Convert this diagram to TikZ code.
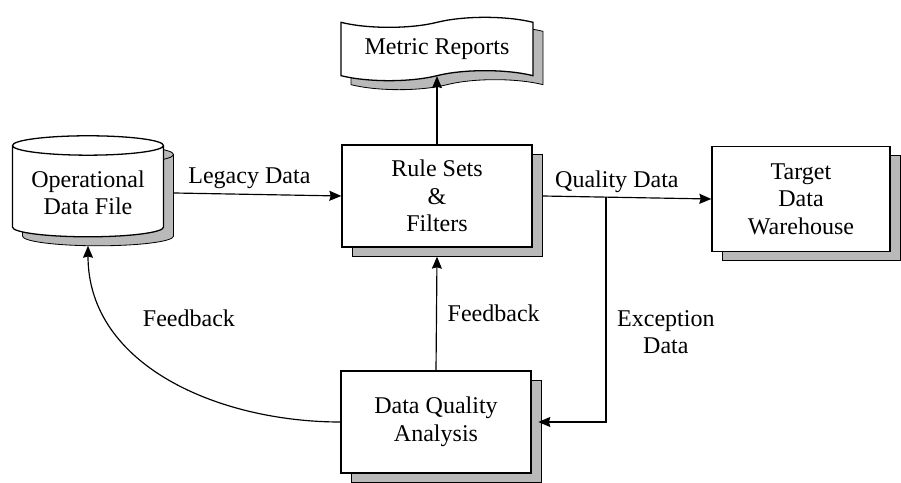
\documentclass[tikz,border=0pt]{standalone}
\usepackage{fontspec}
\setmainfont{Liberation Serif}
\usetikzlibrary{shapes.geometric,shapes.symbols,shadows,arrows.meta,positioning}
\begin{document}
\begin{tikzpicture}[x=0.03cm, y=-0.03cm, font=\fontsize{20.5}{23.5}\selectfont]
        % Define styles
        \tikzstyle{shadowed} = [copy shadow={shadow xshift=0.3cm, shadow yshift=-0.27cm, fill=gray!55, draw=black, line width=0.7pt}]
        \tikzstyle{process} = [rectangle, minimum width=5.7cm, minimum height=3.06cm, align=center, draw=black, fill=white, line width=1.1pt, shadowed]
        \tikzstyle{storage} = [cylinder, shape border rotate=90, aspect=0.16, minimum width=4.53cm, minimum height=3.03cm, align=center, draw=black, fill=white, line width=1.1pt, shadowed]
        \tikzstyle{report} = [tape, tape bend height=0.3cm, minimum width=5.76cm, minimum height=1.9cm, align=center, draw=black, fill=white, line width=1.1pt, shadowed]
        \tikzstyle{arrow} = [line width=1pt,->,>={Stealth[length=3.6mm,width=3mm,inset=0.4mm]}]

        \useasboundingbox (0,0) rectangle (901,483);

        % Nodes
        \node (ops) [storage] at (88,193) {Operational\\Data File};
        \node (rule) [process] at (437,196) {Rule Sets\\\&\\Filters};
        \node (metric) [report] at (437,49) {Metric Reports};
        \node (target) [process, minimum width=5.34cm, minimum height=3.15cm] at (801,199) {Target\\Data\\Warehouse};
        \node (dqa) [process] at (436,422) {Data Quality\\Analysis};
        \coordinate (split) at (606,197);

        % Arrows
        \draw [arrow] ([xshift=0.3cm]ops.east) -- node[above, pos=0.45, yshift=1pt] {Legacy Data} (rule.west);
        \draw [arrow] (rule.north) -- (metric.south);
        \draw [arrow] ([xshift=0.3cm]rule.east) -- node[above, pos=0.44] {Quality Data} (target.west);
        \draw [arrow] (split) |- node[right=0.2cm, pos=0.3, align=center] {Exception\\Data} ([xshift=2mm]dqa.east);
        \draw [arrow] (dqa.north) -- node[right=0.2cm] {Feedback} ([yshift=-0.27cm]rule.south);
        \draw [arrow] (dqa.west) to[out=180, in=-90] node[pos=0.55, above right, xshift=-0.5cm, yshift=1.15cm] {Feedback} ([yshift=-0.25cm]ops.south);
    \end{tikzpicture}
\end{document}
